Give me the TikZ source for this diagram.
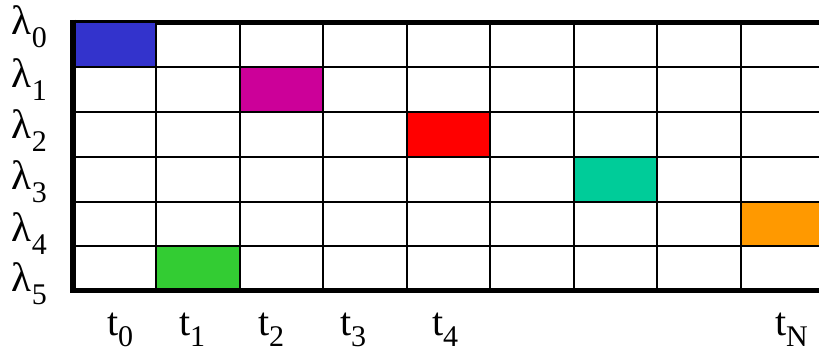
\documentclass[tikz,border=0pt]{standalone}
\usepackage{fontspec}
\setmainfont{Liberation Serif}
\definecolor{cblue}{HTML}{3333CC}
\definecolor{cmagenta}{HTML}{CC0099}
\definecolor{cred}{HTML}{FF0000}
\definecolor{cteal}{HTML}{00CC99}
\definecolor{corange}{HTML}{FF9900}
\definecolor{cgreen}{HTML}{33CC33}
\newcommand\lamlab[1]{{\fontsize{41}{41}\selectfont λ}\raisebox{-13pt}{\fontsize{30}{30}\selectfont #1}}
\newcommand\tlab[1]{{\fontsize{40}{40}\selectfont t}\raisebox{-11pt}{\fontsize{30}{30}\selectfont #1}}
\begin{document}
\begin{tikzpicture}[x=1pt,y=-1pt,
  gridline/.style={line width=2.5pt,black},
  border/.style={line width=5.5pt,black},
  lab/.style={anchor=base west,inner sep=0pt,outer sep=0pt}]
\useasboundingbox (0,0) rectangle (819,355);
\begin{scope}
\clip (0,0) rectangle (819,355);
\fill[cmagenta] (240,67) rectangle (323,112);
\fill[cred] (407,112) rectangle (490,157);
\fill[cteal] (574,157) rectangle (657,202);
\fill[corange] (741,202) rectangle (830,246);
\fill[cgreen] (156,246) rectangle (240,290);
\foreach \x in {156,240,323,407,490,574,657,741}
  \draw[gridline] (\x,22) -- (\x,290);
\foreach \y in {67,112,157,202,246}
  \draw[gridline] (73,\y) -- (830,\y);
\draw[border] (70,22.5) -- (830,22.5);
\draw[border] (70,290.5) -- (830,290.5);
\draw[border] (73,19.75) -- (73,293.25);
\fill[cblue] (75.8,22.6) rectangle (154.8,65.8);
\end{scope}
\node[lab] (l0) at (12,35) {\lamlab{0}};
\node[lab] (l1) at (12,87.5) {\lamlab{1}};
\node[lab] (l2) at (12,139) {\lamlab{2}};
\node[lab] (l3) at (12,190) {\lamlab{3}};
\node[lab] (l4) at (12,241.5) {\lamlab{4}};
\node[lab] (l5) at (12,292) {\lamlab{5}};
\node[lab] (t0) at (107,335) {\tlab{0}};
\node[lab] (t1) at (179,335) {\tlab{1}};
\node[lab] (t2) at (258,335) {\tlab{2}};
\node[lab] (t3) at (340,335) {\tlab{3}};
\node[lab] (t4) at (432,335) {\tlab{4}};
\node[lab] (tN) at (775,335) {\tlab{N}};
\end{tikzpicture}
\end{document}
